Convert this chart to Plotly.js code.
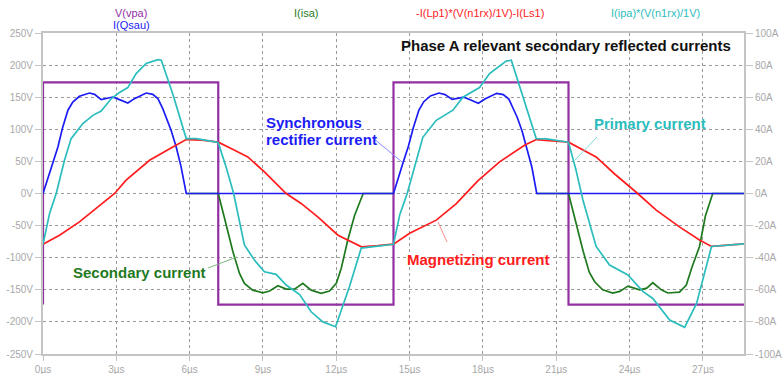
<!DOCTYPE html>
<html>
<head>
<meta charset="utf-8">
<script src="https://cdn.plot.ly/plotly-3.0.1.min.js"></script>
<style>html,body{margin:0;padding:0;background:#fff;}#chart{width:782px;height:374px;}</style>
</head>
<body>
<div id="chart"></div>
<script>
// ---- data (time in microseconds) ----
const vpaT = [0, 0, 7.17, 7.17, 14.34, 14.34, 21.5, 21.5, 28.68];
const vpaV = [-173, 173, 173, -173, -173, 173, 173, -173, -173];

const qsauT = [0, 0.40, 0.61, 0.81, 1.02, 1.22, 1.49, 1.90, 2.11, 2.38, 2.86, 3.13, 3.47, 3.74, 4.22, 4.49, 4.70, 4.90, 5.04, 5.24, 5.45, 5.65, 5.86,
  14.34, 14.72, 14.95, 15.15, 15.38, 15.58, 15.85, 16.20, 16.45, 16.74, 17.22, 17.50, 17.81, 18.10, 18.56, 18.83, 19.06, 19.25, 19.40, 19.60, 19.80, 20.00, 20.20, 28.68];
const qsauA = [0, 18.7, 29.0, 41.5, 51.9, 57.0, 60.6, 62.6, 61.8, 58.5, 60.1, 58.5, 56.4, 59.1, 62.6, 61.8, 59.1, 52.9, 47.7, 39.4, 29.0, 16.6, 0,
  0, 18.7, 29.5, 41.0, 52.0, 57.2, 60.8, 62.6, 61.6, 58.6, 60.0, 58.2, 56.2, 59.0, 62.4, 61.6, 58.8, 52.5, 47.5, 39.0, 28.5, 16.5, 0, 0];

// secondary current: hidden under the rectifier current during conduction (null there)
const isaT = [0, 5.86, 7.17, 7.43, 7.77, 8.04, 8.24, 8.58, 8.99, 9.27, 9.61, 9.95, 10.29, 10.63, 10.97, 11.38, 11.72, 12.00, 12.20, 12.47, 12.75, 13.10,
  14.34, 14.35, 20.20, 21.50, 21.75, 22.10, 22.35, 22.57, 22.90, 23.31, 23.60, 23.93, 24.41, 24.70, 24.95, 25.30, 25.56, 26.04, 26.32, 26.55, 26.86, 27.10, 27.40, 28.68];
const isaA = [null, 0, 0, -15.6, -36.3, -49.8, -56.0, -60.2, -61.9, -60.8, -57.5, -59.6, -59.6, -56.0, -60.2, -62.2, -60.8, -56.0, -46.7, -29.0, -13.5, 0,
  0, null, 0, 0, -15.0, -36.0, -49.0, -55.0, -60.0, -62.0, -61.0, -57.7, -60.0, -59.0, -55.6, -60.0, -62.0, -61.5, -57.0, -46.0, -33.0, -14.0, 0, 0];

const magT = [0, 0.675, 1.49, 2.31, 2.93, 3.40, 4.36, 5.31, 5.86, 6.50, 7.17, 7.84, 8.38, 9.06, 9.95, 10.56, 11.24, 12.07, 13.03, 13.70,
  14.34, 15.00, 16.09, 16.90, 17.30, 17.80, 18.68, 19.70, 20.18, 20.80, 21.50, 22.63, 23.40, 24.33, 25.09, 26.04, 26.86, 27.35, 28.00, 28.68];
const magA = [-31.6, -26.0, -17.7, -7.3, 0, 8.3, 20.7, 29.0, 33.6, 33.2, 32.0, 27.0, 22.8, 13.4, 0, -6.2, -14.6, -26.0, -33.2, -32.5,
  -31.6, -24.8, -16.6, -6.5, 0, 8.0, 19.7, 30.0, 33.6, 33.0, 32.0, 22.8, 12.0, 0, -10.4, -20.8, -29.0, -33.0, -32.3, -31.4];

const ipaT = [0, 0.27, 0.54, 0.88, 1.15, 1.63, 2.04, 2.38, 2.79, 3.13, 3.47, 3.81, 4.22, 4.70, 4.84, 5.31, 5.86, 6.27, 7.09, 7.17, 7.50, 7.80, 8.24, 8.65, 9.06, 9.54, 9.95, 10.50, 10.97, 11.45, 11.97, 12.54, 13.02, 14.31,
  14.34, 14.60, 14.90, 15.54, 16.09, 16.77, 17.18, 17.86, 18.27, 18.95, 19.16, 19.60, 20.18, 20.60, 21.50, 21.80, 22.09, 22.63, 23.18, 23.93, 24.54, 24.95, 25.64, 26.25, 26.74, 27.35, 28.68];
const ipaA = [-31.6, -12.4, 0, 20.7, 34.2, 43.6, 48.7, 51.4, 59.0, 63.0, 66.0, 74.7, 81.0, 83.4, 83.0, 62.0, 34.2, 34.2, 32.0, 31.6, 16.0, 0, -32.0, -41.5, -48.8, -50.4, -57.0, -63.0, -73.7, -80.0, -83.0, -58.0, -34.0, -31.7,
  -31.6, -13.0, 0, 35.0, 45.6, 51.9, 60.0, 66.0, 74.7, 82.5, 83.0, 62.0, 34.2, 34.0, 32.0, 15.0, -4.0, -33.0, -44.6, -50.8, -61.0, -65.4, -78.9, -83.4, -68.5, -33.0, -31.4];

const xTickVals = [0, 3, 6, 9, 12, 15, 18, 21, 24, 27];
const xTickText = ['0µs', '3µs', '6µs', '9µs', '12µs', '15µs', '18µs', '21µs', '24µs', '27µs'];
const yTickVals = [250, 200, 150, 100, 50, 0, -50, -100, -150, -200, -250];
const yTickText = ['250V', '200V', '150V', '100V', '50V', '0V', '-50V', '-100V', '-150V', '-200V', '-250V'];
const y2TickVals = [100, 80, 60, 40, 20, 0, -20, -40, -60, -80, -100];
const y2TickText = ['100A', '80A', '60A', '40A', '20A', '0A', '-20A', '-40A', '-60A', '-80A', '-100A'];

// ---- layout helpers (pixel -> paper) ----
const L = 43, R = 38, T = 33, B = 20, W = 782, H = 374;
const pw = W - L - R, ph = H - T - B;
const px = x => (x - L) / pw;
const py = y => (H - B - y) / ph;

const C = {purple: '#932fa3', blue: '#1c1cf5', green: '#1f7a1f', red: '#ff1c1c', cyan: '#2bbdbd'};
const FONT = 'Liberation Sans, Arial, sans-serif';
const tickFont = {family: FONT, size: 10, color: '#a8a8a8'};

const traces = [
  {x: vpaT, y: vpaV, yaxis: 'y', mode: 'lines', line: {color: C.purple, width: 2.2}},
  {x: isaT, y: isaA, yaxis: 'y2', mode: 'lines', connectgaps: false, line: {color: C.green, width: 1.7}},
  {x: qsauT, y: qsauA, yaxis: 'y2', mode: 'lines', line: {color: C.blue, width: 1.7}},
  {x: magT, y: magA, yaxis: 'y2', mode: 'lines', line: {color: C.red, width: 1.7}},
  {x: ipaT, y: ipaA, yaxis: 'y2', mode: 'lines', line: {color: C.cyan, width: 1.7}}
];

function ann(text, x, y, color, size, anchor, bold) {
  return {text: bold ? '<b>' + text + '</b>' : text, xref: 'paper', yref: 'paper', x: px(x), y: py(y),
    xanchor: anchor, yanchor: 'middle', showarrow: false, font: {family: FONT, size: size, color: color}};
}
function seg(x0, y0, x1, y1, color) {
  return {type: 'line', xref: 'paper', yref: 'paper', x0: px(x0), y0: py(y0), x1: px(x1), y1: py(y1),
    line: {color: color, width: 1}};
}

const layout = {
  width: W, height: H,
  margin: {l: L, r: R, t: T, b: B, pad: 0},
  paper_bgcolor: '#fff', plot_bgcolor: '#fff',
  showlegend: false,
  xaxis: {range: [0, 28.68], tickvals: xTickVals, ticktext: xTickText, tickfont: tickFont,
    showgrid: true, gridcolor: '#9a9a9a', griddash: 'dot', gridwidth: 1, zeroline: false,
    showline: true, linecolor: '#c4c4c4', linewidth: 2, mirror: true,
    ticks: 'outside', ticklen: 5, tickcolor: '#c4c4c4', tickwidth: 1},
  yaxis: {range: [-250, 250], tickvals: yTickVals, ticktext: yTickText, tickfont: tickFont,
    showgrid: true, gridcolor: '#9a9a9a', griddash: 'dot', gridwidth: 1, zeroline: false,
    showline: true, linecolor: '#c4c4c4', linewidth: 2, mirror: true,
    ticks: 'outside', ticklen: 6, tickcolor: '#c4c4c4', tickwidth: 1},
  yaxis2: {range: [-100, 100], overlaying: 'y', side: 'right', tickvals: y2TickVals, ticktext: y2TickText, tickfont: tickFont,
    showgrid: false, zeroline: false, showline: true, linecolor: '#c4c4c4', linewidth: 2,
    ticks: 'outside', ticklen: 7, tickcolor: '#c4c4c4', tickwidth: 1},
  annotations: [
    ann('V(vpa)', 131, 13, C.purple, 11, 'center', false),
    ann('I(Qsau)', 131, 25, C.blue, 11, 'center', false),
    ann('I(isa)', 306, 13, C.green, 11, 'center', false),
    ann('-I(Lp1)*(V(n1rx)/1V)-I(Ls1)', 480, 13, C.red, 11, 'center', false),
    ann('I(ipa)*(V(n1rx)/1V)', 655, 13, C.cyan, 11, 'center', false),
    ann('Phase A relevant secondary reflected currents', 566, 45, '#111', 15, 'center', true),
    ann('Synchronous', 264, 122, '#1c1cf5', 15, 'left', true),
    ann('rectifier current', 264, 139, '#1c1cf5', 15, 'left', true),
    ann('Primary current', 592, 123, C.cyan, 15, 'left', true),
    ann('Magnetizing current', 405, 259, C.red, 15, 'left', true),
    ann('Secondary current', 71, 272, C.green, 15, 'left', true)
  ],
  shapes: [
    seg(373, 138, 402, 162, '#8a8aff'),
    seg(597, 137, 575, 160, '#80dada'),
    seg(438, 222, 447, 242, '#ff8c8c'),
    seg(208, 268, 237, 257, '#80b880')
  ]
};

Plotly.newPlot('chart', traces, layout, {staticPlot: true, displayModeBar: false});
</script>
</body>
</html>
